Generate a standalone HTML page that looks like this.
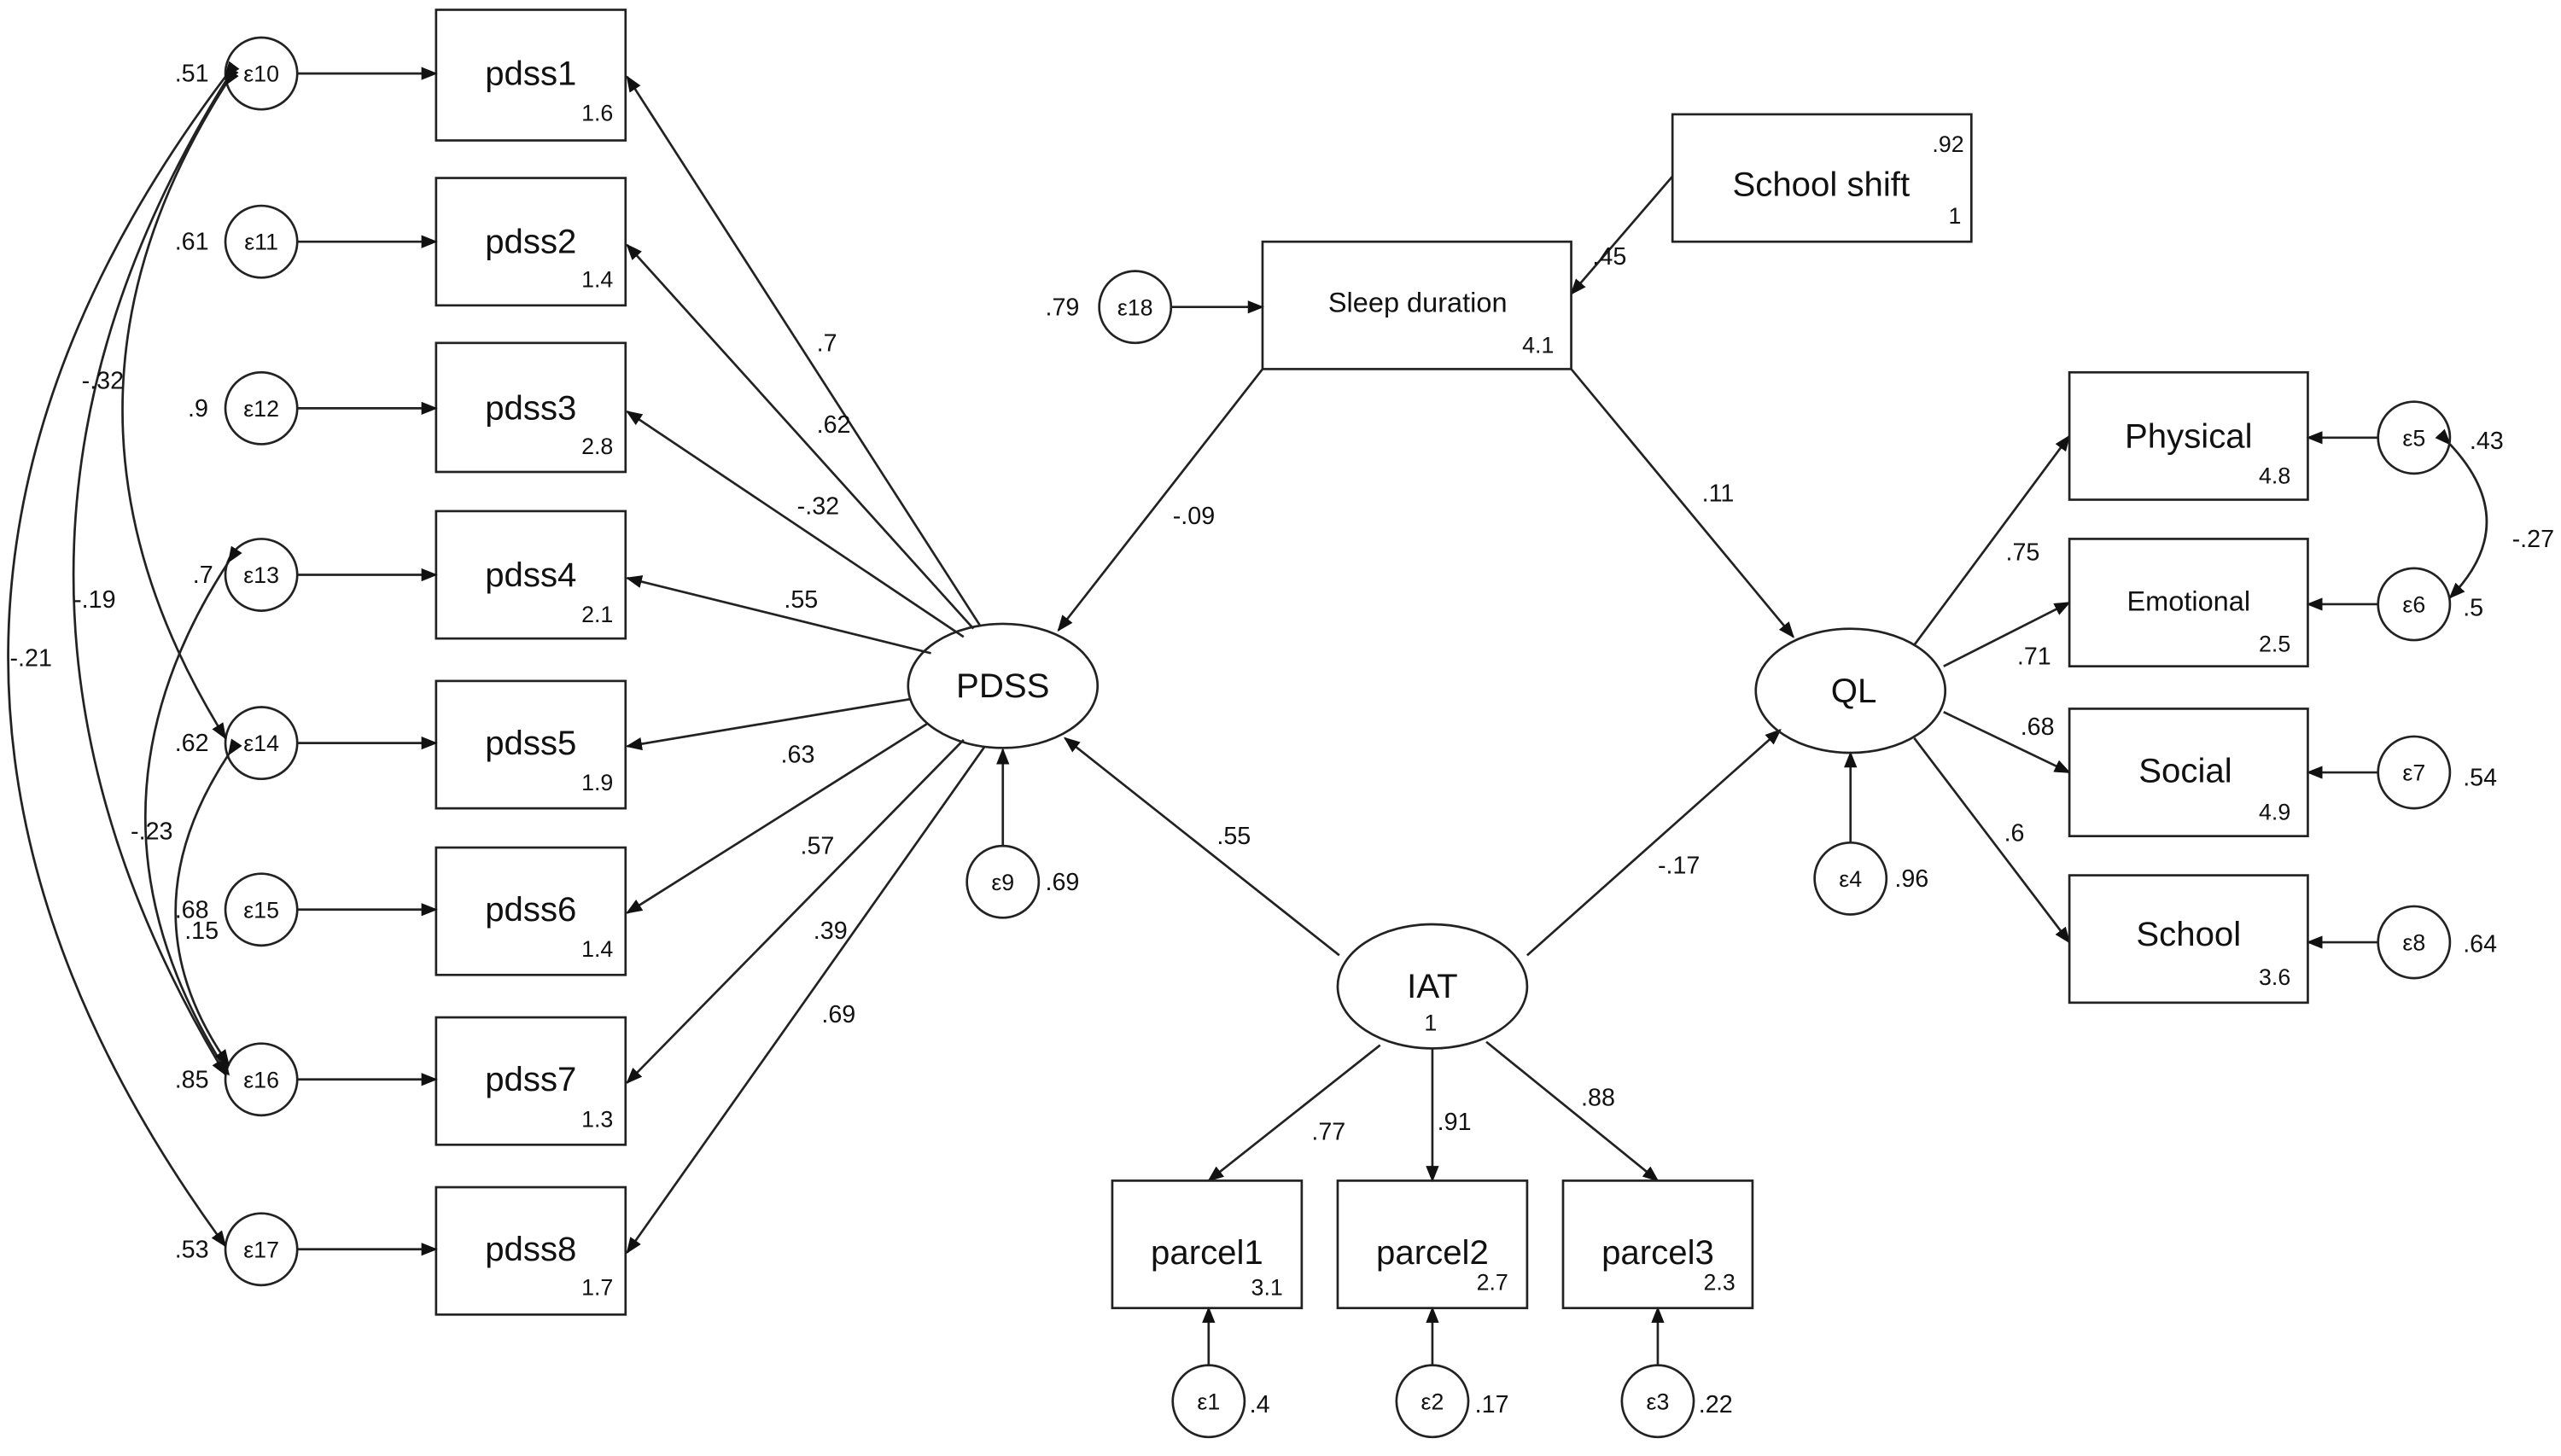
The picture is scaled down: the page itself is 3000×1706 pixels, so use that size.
<!DOCTYPE html>
<html><head><meta charset="utf-8"><style>
html,body{margin:0;padding:0;background:#fff;}
svg{display:block;}
text{font-family:"Liberation Sans",Arial,sans-serif;fill:#111;}
.b{font-size:21px;text-anchor:middle;}
.s{font-size:14px;}
.l{font-size:15px;}
.e{font-size:14px;text-anchor:middle;}
</style></head><body>
<svg width="3000" height="1706" viewBox="0 0 1568 891.6" preserveAspectRatio="none" xmlns="http://www.w3.org/2000/svg">
<defs><marker id="a" markerWidth="10" markerHeight="8" refX="9" refY="4" orient="auto" markerUnits="userSpaceOnUse"><path d="M0,0 L10,4 L0,8 z" fill="#111"/></marker></defs>
<g stroke="#222" stroke-width="1.4" fill="none">
<rect x="267" y="6" width="116" height="80"/>
<rect x="267" y="109" width="116" height="78"/>
<rect x="267" y="210" width="116" height="79"/>
<rect x="267" y="313" width="116" height="78"/>
<rect x="267" y="417" width="116" height="78"/>
<rect x="267" y="519" width="116" height="78"/>
<rect x="267" y="623" width="116" height="78"/>
<rect x="267" y="727" width="116" height="78"/>
<circle cx="160" cy="45" r="22"/><circle cx="160" cy="148" r="22"/><circle cx="160" cy="250" r="22"/><circle cx="160" cy="352" r="22"/>
<circle cx="160" cy="455" r="22"/><circle cx="160" cy="557" r="22"/><circle cx="160" cy="661" r="22"/><circle cx="160" cy="765" r="22"/>
</g>
<g stroke="#222" stroke-width="1.4" fill="none" marker-end="url(#a)">
<line x1="182" y1="45" x2="267" y2="45"/><line x1="182" y1="148" x2="267" y2="148"/><line x1="182" y1="250" x2="267" y2="250"/><line x1="182" y1="352" x2="267" y2="352"/>
<line x1="182" y1="455" x2="267" y2="455"/><line x1="182" y1="557" x2="267" y2="557"/><line x1="182" y1="661" x2="267" y2="661"/><line x1="182" y1="765" x2="267" y2="765"/>
<line x1="600" y1="383" x2="384" y2="47"/><line x1="596" y1="385" x2="384" y2="150"/><line x1="590" y1="390" x2="384" y2="252"/><line x1="570" y1="400" x2="384" y2="354"/>
<line x1="558" y1="428" x2="384" y2="457"/><line x1="568" y1="443" x2="384" y2="559"/><line x1="590" y1="453" x2="384" y2="663"/><line x1="603" y1="457" x2="384" y2="767"/>
<path d="M138,52 Q12,250 138,452" marker-start="url(#a)"/>
<path d="M138,50 Q-48,350 138,658" marker-start="url(#a)"/>
<path d="M138,47 Q-128,400 138,763" marker-start="url(#a)"/>
<path d="M140,344 Q38,500 140,658" marker-start="url(#a)"/>
<path d="M140,462 Q75,560 140,652" marker-start="url(#a)"/>
<line x1="614" y1="518" x2="614" y2="459"/>
<line x1="717" y1="188" x2="773" y2="188"/>
<line x1="1024" y1="108" x2="962" y2="180"/>
<line x1="773" y1="226" x2="648" y2="386"/>
<line x1="962" y1="226" x2="1098" y2="390"/>
<line x1="820" y1="585" x2="652" y2="452"/>
<line x1="935" y1="585" x2="1090" y2="447"/>
<line x1="845" y1="640" x2="740" y2="723"/>
<line x1="877" y1="642" x2="877" y2="723"/>
<line x1="910" y1="638" x2="1015" y2="723"/>
<line x1="740" y1="836" x2="740" y2="801"/>
<line x1="877" y1="836" x2="877" y2="801"/>
<line x1="1015" y1="836" x2="1015" y2="801"/>
<line x1="1133" y1="516" x2="1133" y2="461"/>
<line x1="1172" y1="395" x2="1267" y2="267"/>
<line x1="1190" y1="408" x2="1267" y2="369"/>
<line x1="1190" y1="436" x2="1267" y2="473"/>
<line x1="1172" y1="452" x2="1267" y2="577"/>
<line x1="1456" y1="268" x2="1413" y2="268"/>
<line x1="1456" y1="370" x2="1413" y2="370"/>
<line x1="1456" y1="473" x2="1413" y2="473"/>
<line x1="1456" y1="577" x2="1413" y2="577"/>
<path d="M1500,272 Q1545,320 1500,366" marker-start="url(#a)"/>
</g>
<g stroke="#222" stroke-width="1.4" fill="none">
<ellipse cx="614" cy="420" rx="58" ry="38"/>
<ellipse cx="1133" cy="423" rx="58" ry="38"/>
<ellipse cx="877" cy="604" rx="58" ry="38"/>
<circle cx="614" cy="540" r="22"/><circle cx="695" cy="188" r="22"/><circle cx="1133" cy="538" r="22"/>
<circle cx="740" cy="858" r="22"/><circle cx="877" cy="858" r="22"/><circle cx="1015" cy="858" r="22"/>
<circle cx="1478" cy="268" r="22"/><circle cx="1478" cy="370" r="22"/><circle cx="1478" cy="473" r="22"/><circle cx="1478" cy="577" r="22"/>
<rect x="773" y="148" width="189" height="78"/>
<rect x="1024" y="70" width="183" height="78"/>
<rect x="681" y="723" width="116" height="78"/><rect x="819" y="723" width="116" height="78"/><rect x="957" y="723" width="116" height="78"/>
<rect x="1267" y="228" width="146" height="78"/><rect x="1267" y="330" width="146" height="78"/><rect x="1267" y="434" width="146" height="78"/><rect x="1267" y="536" width="146" height="78"/>
</g>
<g class="b">
<text x="325" y="52">pdss1</text><text x="325" y="155">pdss2</text><text x="325" y="257">pdss3</text><text x="325" y="359">pdss4</text>
<text x="325" y="462">pdss5</text><text x="325" y="564">pdss6</text><text x="325" y="668">pdss7</text><text x="325" y="772">pdss8</text>
<text x="614" y="427">PDSS</text><text x="1135" y="430">QL</text><text x="877" y="611">IAT</text>
<text x="1115" y="120">School shift</text>
<text x="868" y="191" style="font-size:17px">Sleep duration</text>
<text x="739" y="774">parcel1</text><text x="877" y="774">parcel2</text><text x="1015" y="774">parcel3</text>
<text x="1340" y="274">Physical</text><text x="1340" y="374" style="font-size:17px">Emotional</text><text x="1338" y="479">Social</text><text x="1340" y="579">School</text>
</g>
<g class="s">
<text x="356" y="74">1.6</text><text x="356" y="176">1.4</text><text x="356" y="278">2.8</text><text x="356" y="381">2.1</text>
<text x="356" y="484">1.9</text><text x="356" y="586">1.4</text><text x="356" y="690">1.3</text><text x="356" y="793">1.7</text>
<text x="932" y="216">4.1</text><text x="1183" y="93">.92</text><text x="1193" y="137">1</text><text x="872" y="631">1</text>
<text x="766" y="793">3.1</text><text x="904" y="790">2.7</text><text x="1043" y="790">2.3</text>
<text x="1383" y="296">4.8</text><text x="1383" y="399">2.5</text><text x="1383" y="502">4.9</text><text x="1383" y="603">3.6</text>
</g>
<g class="l">
<text x="107" y="50">.51</text><text x="107" y="153">.61</text><text x="115" y="255">.9</text><text x="118" y="357">.7</text>
<text x="107" y="460">.62</text><text x="107" y="562">.68</text><text x="113" y="575">.15</text><text x="107" y="666">.85</text><text x="107" y="770">.53</text>
<text x="50" y="238">-.32</text><text x="45" y="372">-.19</text><text x="6" y="408">-.21</text><text x="80" y="514">-.23</text>
<text x="500" y="215">.7</text><text x="500" y="265">.62</text><text x="488" y="315">-.32</text><text x="480" y="372">.55</text>
<text x="478" y="467">.63</text><text x="490" y="523">.57</text><text x="498" y="575">.39</text><text x="503" y="626">.69</text>
<text x="640" y="545">.69</text><text x="640" y="193">.79</text><text x="975" y="162">.45</text>
<text x="718" y="321">-.09</text><text x="1042" y="307">.11</text><text x="745" y="517">.55</text><text x="1015" y="535">-.17</text>
<text x="803" y="698">.77</text><text x="880" y="692">.91</text><text x="968" y="677">.88</text>
<text x="765" y="865">.4</text><text x="903" y="865">.17</text><text x="1040" y="865">.22</text>
<text x="1160" y="543">.96</text>
<text x="1228" y="343">.75</text><text x="1235" y="407">.71</text><text x="1237" y="450">.68</text><text x="1227" y="515">.6</text>
<text x="1512" y="275">.43</text><text x="1538" y="335">-.27</text><text x="1508" y="377">.5</text><text x="1508" y="481">.54</text><text x="1508" y="583">.64</text>
</g>
<g class="e">
<text x="160" y="50">ε10</text><text x="160" y="153">ε11</text><text x="160" y="255">ε12</text><text x="160" y="357">ε13</text>
<text x="160" y="460">ε14</text><text x="160" y="562">ε15</text><text x="160" y="666">ε16</text><text x="160" y="770">ε17</text>
<text x="614" y="545">ε9</text><text x="695" y="193">ε18</text><text x="1133" y="543">ε4</text>
<text x="740" y="863">ε1</text><text x="877" y="863">ε2</text><text x="1015" y="863">ε3</text>
<text x="1478" y="273">ε5</text><text x="1478" y="375">ε6</text><text x="1478" y="478">ε7</text><text x="1478" y="582">ε8</text>
</g>
</svg>
</body></html>
